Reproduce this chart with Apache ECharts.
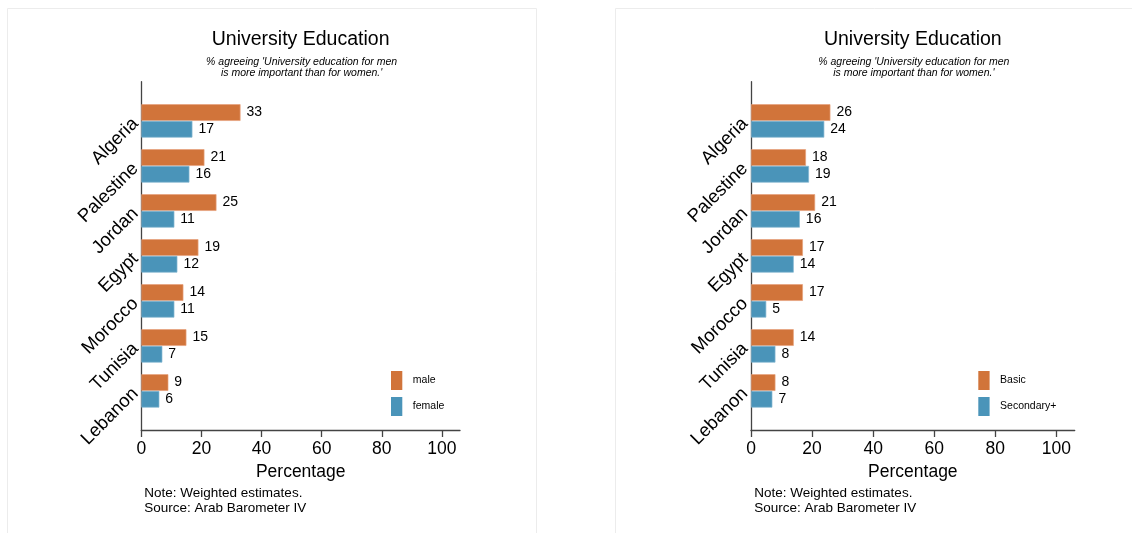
<!DOCTYPE html>
<html>
<head>
<meta charset="utf-8">
<script src="https://cdn.jsdelivr.net/npm/echarts@6/dist/echarts.min.js"></script>
<style>
html,body{margin:0;padding:0;background:#fff;}
#c{width:1132px;height:533px;}
</style>
</head>
<body>
<div id="c"></div>
<script>
const countries = ['Algeria','Palestine','Jordan','Egypt','Morocco','Tunisia','Lebanon'];
const maleVals = [33,21,25,19,14,15,9];
const femaleVals = [17,16,11,12,11,7,6];
const basicVals = [26,18,21,17,17,14,8];
const secondaryVals = [24,19,16,14,5,8,7];
const xTicks = [0,20,40,60,80,100];
const titleText = 'University Education';
const subtitleText = "% agreeing 'University education for men\nis more important than for women.'";
const noteText = 'Note: Weighted estimates.\nSource: Arab Barometer IV';

const FONT = "'Liberation Sans', Arial, Helvetica, sans-serif";
const ORANGE = '#D1743A';
const BLUE = '#4A94B9';
const AXIS = '#444';

const panels = [
  {left:141.3, width:318.7, titleX:300.6, noteX:144.3, legendX:391, names:['male','female'], vals:[maleVals,femaleVals], border:7.5},
  {left:751, width:323.7, titleX:912.8, noteX:754.3, legendX:978.3, names:['Basic','Secondary+'], vals:[basicVals,secondaryVals], border:615.5}
];

const grid=[], xAxis=[], yAxis=[], series=[], legend=[], graphic=[];
panels.forEach((p,i)=>{
  const gb = i*2, gf = i*2+1;
  grid.push({left:p.left, width:p.width, top:98.4, height:315, containLabel:false});
  grid.push({left:p.left, width:p.width, top:81.7, height:348.3, containLabel:false});
  xAxis.push({gridIndex:gb, type:'value', min:0, max:106, show:false});
  xAxis.push({gridIndex:gf, type:'value', min:0, max:106, interval:20,
    axisLine:{show:true, lineStyle:{color:AXIS, width:1.3}},
    axisTick:{show:true, length:7, lineStyle:{color:AXIS, width:1.3}, customValues:xTicks},
    axisLabel:{show:true, fontSize:17.5, color:'#000', fontFamily:FONT, margin:10, customValues:xTicks},
    splitLine:{show:false},
    name:'Percentage', nameLocation:'middle', nameGap:31,
    nameTextStyle:{fontSize:17.5, color:'#000', fontFamily:FONT}});
  yAxis.push({gridIndex:gb, type:'category', inverse:true, data:countries,
    axisLine:{show:false}, axisTick:{show:false},
    axisLabel:{show:true, rotate:45, fontSize:18.5, color:'#000', fontFamily:FONT, margin:6}});
  yAxis.push({gridIndex:gf, type:'value', min:0, max:1,
    axisLine:{show:true, lineStyle:{color:AXIS, width:1.3}},
    axisTick:{show:false}, axisLabel:{show:false}, splitLine:{show:false}});
  [ORANGE, BLUE].forEach((col,k)=>{
    series.push({type:'bar', name:p.names[k], xAxisIndex:gb, yAxisIndex:gb,
      data:p.vals[k], barWidth:16.7, barGap:'0%',
      itemStyle:{color:col, borderColor: k===0?'#e6a07a':'#86b8d3', borderWidth:0.7},
      label:{show:true, position:'right', distance:6, fontSize:14, color:'#000', fontFamily:FONT},
      emphasis:{disabled:true}, animation:false});
  });
  legend.push({data:p.names, orient:'vertical', left:p.legendX, top:371, padding:0,
    itemWidth:11.3, itemHeight:19, itemGap:7, icon:'rect',
    itemStyle:{borderWidth:0},
    textStyle:{fontSize:10.5, color:'#000', fontFamily:FONT, padding:[2,0,0,5.5]},
    selectedMode:false});
  graphic.push({type:'rect', shape:{x:p.border, y:8.5, width:529, height:600},
    style:{fill:'none', stroke:'#ececec', lineWidth:1}, silent:true, z:-10});
  graphic.push({type:'text', x:p.titleX, y:39.8,
    style:{text:titleText, fill:'#000', font:'19.5px '+FONT, textAlign:'center', textVerticalAlign:'middle'}});
  graphic.push({type:'text', x:p.titleX+1, y:67.5,
    style:{text:subtitleText, fill:'#000', font:'italic 10.5px '+FONT, lineHeight:10.7, textAlign:'center', textVerticalAlign:'middle'}});
  graphic.push({type:'text', x:p.noteX, y:500.8,
    style:{text:noteText, fill:'#000', font:'13.5px '+FONT, lineHeight:15, textAlign:'left', textVerticalAlign:'middle'}});
});

const chart = echarts.init(document.getElementById('c'), null, {renderer:'canvas'});
chart.setOption({animation:false, backgroundColor:'#fff', grid, xAxis, yAxis, series, legend, graphic});
</script>
</body>
</html>
